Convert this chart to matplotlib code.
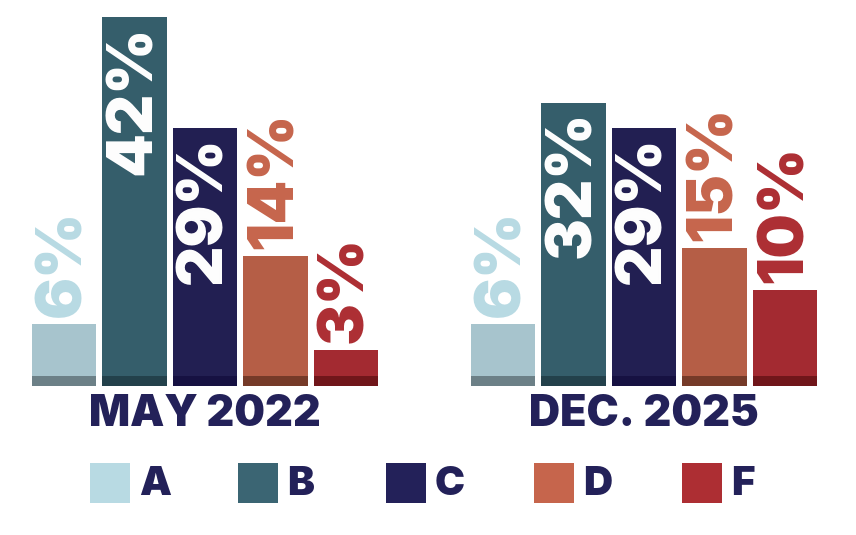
import numpy as np
import matplotlib
matplotlib.use('Agg')
import matplotlib.pyplot as plt
from matplotlib.patches import Rectangle

plt.rcParams['font.family'] = ['Inter', 'DejaVu Sans']
plt.rcParams['font.weight'] = 'black'

# data
grades = ['A', 'B', 'C', 'D', 'F']
periods = ['MAY 2022', 'DEC. 2025']
may_2022 = [6, 42, 29, 14, 3]
dec_2025 = [6, 32, 29, 15, 10]

bar_colors = ['#A7C4CD', '#355E6B', '#221F52', '#B55E46', '#A32A31']
base_colors = ['#6C8087', '#23414B', '#161142', '#753A28', '#70161A']
key_colors = ['#B8DAE3', '#3B6573', '#232159', '#C6654C', '#AD2E33']
navy = '#232159'

base_h = 1.22      # dark strip under every bar
group_gap = 6.23   # offset of second group, in bar units
width = 0.915

fig = plt.figure(figsize=(8.56, 5.35), dpi=100)
ax = fig.add_axes([0, 0, 1, 1])
ax.set_xlim(-0.908, 11.234)
ax.set_ylim(-17.47, 45.25)
ax.axis('off')

x = np.arange(len(grades))
for g, (name, vals) in enumerate(zip(periods, [may_2022, dec_2025])):
    xs = x + g * group_gap
    ax.bar(xs, [base_h] * len(vals), width=width, color=base_colors, linewidth=0)
    ax.bar(xs, vals, bottom=base_h, width=width, color=bar_colors, linewidth=0)
    for xi, v, kc in zip(xs, vals, key_colors):
        top = base_h + v
        if v >= 20:
            ax.annotate(f'{v}%', (xi, top), xytext=(0, -6), textcoords='offset points',
                        rotation=90, ha='center', va='top', color='white',
                        fontsize=45)
        else:
            ax.annotate(f'{v}%', (xi, top), xytext=(0, 5), textcoords='offset points',
                        rotation=90, ha='center', va='bottom', color=kc,
                        fontsize=45)
    ax.text(xs.mean(), -3.3, name, ha='center', va='center', color=navy,
            fontsize=31)

# legend, drawn by hand so squares sit at even spacing
key_x0 = 0.37
key_step = 2.1
for i, (lab, kc) in enumerate(zip(grades, key_colors)):
    kx = key_x0 + i * key_step
    ax.add_patch(Rectangle((kx, -13.67), 0.567, 4.69, color=kc, linewidth=0))
    ax.text(kx + 0.69, -11.5, lab, ha='left', va='center', color=navy,
            fontsize=29)

fig.savefig('out.png', dpi=100)
